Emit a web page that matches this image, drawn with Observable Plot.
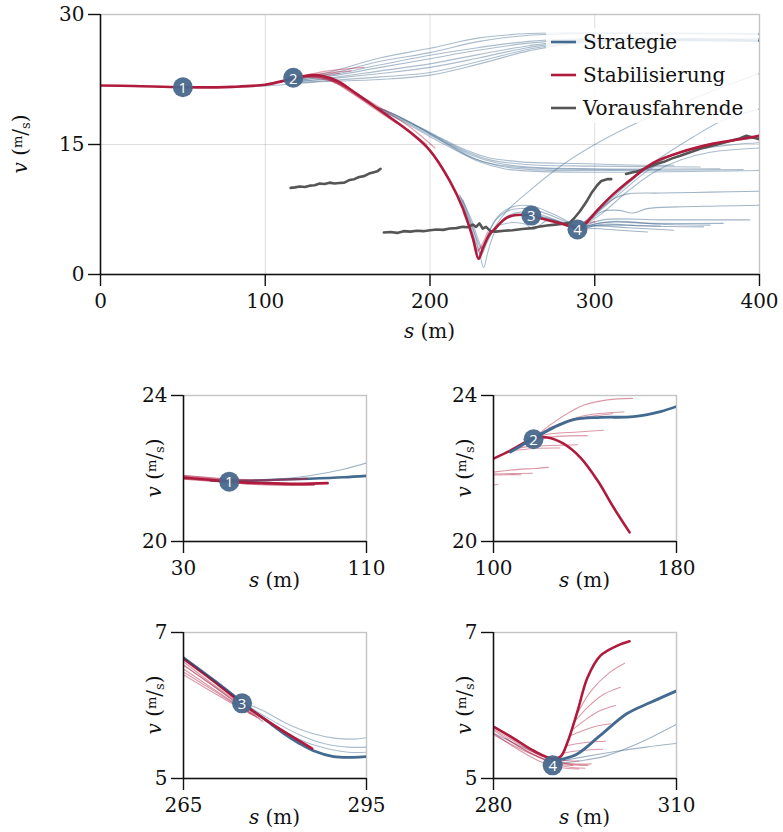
<!DOCTYPE html>
<html><head><meta charset="utf-8">
<script src="https://cdn.jsdelivr.net/npm/d3@7"></script>
<script src="https://cdn.jsdelivr.net/npm/@observablehq/plot@0.6"></script>
<style>
body{margin:0;background:#fff;}
#wrap{position:relative;width:783px;height:832px;overflow:hidden;background:#fff;}
#wrap svg{position:absolute;overflow:visible;}
</style></head>
<body><div id="wrap"></div>
<script>
// ---------- colours ----------
const BLUE = "#436a90", RED = "#b01a3c", GRAY = "#555555", MARK = "#48688c";

// ---------- legend ----------
const legendLabels = ["Strategie", "Stabilisierung", "Vorausfahrende"];
const legendColors = [BLUE, RED, GRAY];

// ---------- main chart ----------
const mainXTicks = [0, 100, 200, 300, 400];
const mainYTicks = [0, 15, 30];
const mainMarkers = [[50, 21.6, "1"], [117, 22.7, "2"], [261.5, 6.8, "3"], [289.5, 5.2, "4"]];

const mainRed = [[0,21.8],[20,21.75],[50,21.6],[80,21.65],[100,21.9],[117,22.6],[128,23.0],[135,22.9],[144,22.3],[155,20.9],[170,18.9],[188,16.4],[200,14.3],[212,10.8],[220,7.6],[226,4.2],[229.5,1.8],[232,3.0],[236,4.6],[239,5.2],[247,6.6],[257,6.9],[267,6.5],[279,5.9],[287,5.45],[289.5,5.3],[293,5.6],[301.5,7.4],[311.5,9.3],[323.5,11.2],[335.7,12.9],[352,14.1],[372,15.1],[388,15.6],[400,16.0]];

const mainRedThin = [
  [[100,21.9],[117,22.6],[135,23.4],[160,23.9]],
  [[100,21.9],[117,22.6],[135,23.2],[152,23.5]],
  [[100,21.9],[117,22.5],[130,22.9],[145,23.2]],
  [[125,23.0],[135,22.8],[145,22.0],[158,20.6],[172,19.0],[188,17.0],[203,14.6]],
  [[125,22.9],[135,22.7],[145,21.9],[158,20.3],[172,18.6],[186,16.8],[198,15.0]],
  [[125,22.8],[140,22.3],[152,21.0],[165,19.3],[180,17.4]],
  [[125,22.9],[140,22.4],[152,21.2],[165,19.6],[175,18.4]],
  [[120,22.8],[135,22.7],[148,21.8],[160,20.3]],
  [[220,7.2],[225,4.8],[228.5,2.6],[231,3.2]],
  [[221,7.0],[226,4.5],[229,2.8],[232,3.6],[235,4.9]],
  [[289.5,5.3],[294,6.1],[299,6.6]],
  [[289.5,5.3],[295,5.9],[300,6.1]]
];

const mainBlueUpper = [
  [[117,22.4],[140,23.4],[170,25.0],[200,26.1],[230,27.3],[260,27.8],[300,27.9],[400,27.8]],
  [[117,22.4],[140,23.2],[170,24.6],[200,25.6],[230,26.9],[260,27.6],[300,27.8],[400,27.7]],
  [[117,22.3],[140,23.0],[170,24.2],[200,25.3],[230,26.2],[260,26.9],[290,27.2],[400,27.2]],
  [[117,22.3],[140,22.9],[170,23.9],[200,24.9],[230,25.9],[260,26.7],[290,27.1],[400,27.1]],
  [[117,22.2],[140,22.7],[170,23.5],[200,24.3],[230,25.4],[260,26.4],[290,27.0],[400,27.0]],
  [[117,22.2],[140,22.6],[170,23.2],[200,23.9],[230,25.0],[260,26.2],[290,26.9],[400,27.0]],
  [[117,22.1],[140,22.4],[170,22.8],[200,23.3],[230,24.6],[260,26.0],[290,26.8],[400,26.9]],
  [[50,21.6],[75,21.6],[100,21.75],[117,22.0],[130,22.2],[170,22.5],[200,23.0],[230,24.3],[260,25.8],[290,26.7],[400,26.9]]
];

const mainBlueMid = [
  [[168,19.3],[176,18.7],[190,17.4],[205,15.9],[220,14.5],[235,13.5],[255,13.0],[290,12.8],[330,12.6],[348,12.6]],
  [[168,19.3],[178,18.5],[192,17.1],[207,15.6],[222,14.2],[237,13.2],[258,12.7],[300,12.5],[364,12.4]],
  [[168,19.2],[180,18.2],[195,16.8],[210,15.2],[225,13.8],[240,12.9],[260,12.4],[300,12.2],[376,12.2]],
  [[168,19.1],[182,17.9],[198,16.3],[213,14.8],[228,13.3],[243,12.5],[262,12.1],[300,12.0],[390,12.1]],
  [[168,19.1],[183,17.7],[200,15.9],[215,14.4],[230,13.0],[245,12.2],[265,11.9],[300,11.8],[400,12.0]],
  [[168,19.2],[179,18.4],[194,16.9],[209,15.2],[224,13.6],[240,12.7],[260,12.3],[310,12.1],[340,12.1]]
];

const mainBlueRise = [
  [[232,2.5],[238,5.0],[246,7.2],[260,9.6],[280,12.6],[300,15.0],[320,17.0],[340,18.7],[360,20.3],[380,21.8],[400,23.2]],
  [[289.5,5.25],[300,7.0],[315,9.6],[330,12.0],[345,13.6],[360,14.6],[380,15.3],[400,15.8]],
  [[289.5,5.25],[302,7.2],[318,9.8],[333,12.1],[348,13.5],[365,14.5],[385,15.0],[400,15.2]],
  [[289.5,5.25],[304,7.0],[320,9.6],[336,11.8],[352,13.2],[370,14.1],[400,14.6]],
  [[289.5,5.25],[300,7.2],[315,10.0],[330,12.2],[344,14.0],[360,15.9],[378,17.8],[400,19.1]]
];

const mainBlueDip = [
  [[218,9.0],[224,6.0],[228,3.6],[231,2.2],[234,3.8],[238,5.8],[244,7.2],[252,7.9],[262,7.9],[272,7.2],[282,6.3],[289.5,5.4]],
  [[218,9.2],[225,6.4],[229,4.2],[232,3.0],[235,4.5],[240,6.3],[248,7.4],[258,7.6],[268,7.2],[280,6.3],[289.5,5.5]],
  [[220,8.6],[226,5.4],[230,2.6],[232.5,0.8],[235,2.5],[239,4.8],[245,6.5],[255,7.2],[265,7.0],[278,6.2],[289.5,5.5]],
  [[219,8.8],[225,5.8],[229,3.8],[231.5,2.9],[235,4.0],[240,5.5],[248,6.6],[258,6.9],[270,6.6],[282,5.9],[290,5.6],[310,5.7],[340,5.6]],
  [[240,5.6],[250,6.0],[258,5.8],[263,5.2],[266,5.6],[272,6.3],[280,6.0],[289.5,5.4]]
];

const mainBlueLow = [
  [[262,6.8],[270,6.4],[280,5.9],[289.5,5.3],[300,5.3],[315,5.1],[332,4.9]],
  [[262,6.8],[275,6.2],[289.5,5.25],[300,5.6],[320,5.4],[348,5.1]],
  [[262,6.9],[276,6.2],[289.5,5.25],[305,5.8],[330,5.6],[366,5.5]],
  [[289.5,5.25],[305,6.0],[335,5.9],[378,5.9]],
  [[289.5,5.25],[305,6.3],[340,6.3],[394,6.3]],
  [[289.5,5.25],[310,6.1],[340,5.8],[370,5.7]],
  [[289.5,5.25],[298,6.5],[305,7.8],[312,8.8],[320,9.3],[340,9.4],[370,9.5],[400,9.6]],
  [[289.5,5.25],[298,6.4],[305,7.3],[315,7.4],[323,7.1],[332,7.6],[350,7.8],[375,7.9],[400,8.0]]
];

const leadA = [[115.4,10.0],[118,10.05],[121,10.15],[124,10.1],[127,10.25],[130,10.3],[133,10.5],[136,10.45],[139,10.6],[142,10.5],[145,10.55],[148,10.6],[151,10.9],[154,11.0],[157,11.25],[160,11.35],[163,11.65],[166,11.8],[168,11.9],[170,12.2]];
const leadB = [[172,4.85],[176,4.9],[180,4.8],[184,5.0],[188,4.95],[192,5.05],[196,5.0],[200,5.1],[204,5.2],[208,5.15],[212,5.3],[216,5.35],[220,5.5],[223,5.45],[226,5.75],[228,5.5],[230,5.9],[232,5.3],[234,5.5],[236.7,5.0],[240,4.95],[245,5.05],[250,5.1],[256,5.25],[262,5.35],[266,5.5],[271,5.65],[276,5.75],[281,5.85],[285,6.0],[288,6.6],[291,7.3],[293.5,8.0],[295.6,8.6],[298,9.4],[301.5,10.3],[304,10.8],[307.5,11.0],[310,11.0]];
const leadC = [[319,11.6],[323,11.8],[326,11.9],[330,12.2],[334,12.5],[338,12.8],[342,13.0],[347,13.4],[352,13.7],[358,14.1],[364,14.5],[370,14.8],[376,15.1],[382,15.4],[388,15.7],[392,16.0],[396,15.8],[400,15.6]];

// ---------- detail panel 1 ----------
const p1Marker = [[50, 21.64, "1"]];
const p1RedThick = [[30,21.75],[40,21.7],[50,21.64],[65,21.6],[80,21.58],[93,21.6]];
const p1RedThin = [
  [[30,21.8],[45,21.72],[60,21.68],[75,21.7],[84,21.72]],
  [[30,21.72],[45,21.65],[60,21.58],[75,21.55],[87,21.55]]
];
const p1BlueThick = [[42,21.67],[55,21.66],[70,21.69],[85,21.72],[100,21.76],[110,21.8]];
const p1BlueThin = [[[55,21.67],[70,21.7],[85,21.8],[100,21.98],[110,22.15]]];

// ---------- detail panel 2 ----------
const p2Marker = [[117.5, 22.8, "2"]];
const p2RedThick = [[100,22.27],[107.4,22.49],[117.5,22.82],[123.6,22.85],[130.6,22.68],[138,22.3],[145.5,21.67],[152.5,20.93],[159.5,20.25]];
const p2BlueThick = [[107.4,22.45],[117.5,22.82],[126.2,23.12],[135,23.34],[146.8,23.4],[161.2,23.42],[173,23.56],[180,23.7]];
const p2RedThin = [
  [[117.5,22.82],[126,23.25],[139.3,23.73],[149.8,23.88],[160.8,23.92]],
  [[120,22.95],[130,23.25],[140,23.45],[149,23.52],[157,23.55]],
  [[124,23.1],[135,23.35],[145,23.45],[152,23.5]],
  [[115,22.8],[125,22.95],[137,23.0],[148,23.05]],
  [[118,22.8],[128,22.88],[141,22.9]],
  [[107,22.5],[115,22.6],[125,22.63],[136.7,22.65]],
  [[107,22.48],[118,22.55],[129,22.56]],
  [[100,21.9],[110,21.97],[118,22.0],[124,22.03]],
  [[100,21.85],[108,21.86],[117,21.87]],
  [[100,21.82],[106,21.83],[112,21.83]],
  [[100,21.55],[102,21.56]]
];

// ---------- detail panel 3 ----------
const p3Marker = [[274.6, 6.03, "3"]];
const p3RedThick = [[265,6.64],[270,6.33],[274.6,6.03],[280,5.72],[286.1,5.41]];
const p3PrevThick = [[265,6.66],[270,6.35],[274.6,6.05]];
const p3BlueThick = [[274.6,6.03],[278,5.83],[281.4,5.62],[284,5.48],[286.3,5.38],[289.6,5.30],[292.9,5.29],[295,5.30]];
const p3BlueThin = [
  [[274.6,6.05],[278,5.93],[282,5.75],[286,5.62],[290,5.55],[293,5.54],[295,5.56]],
  [[274.6,6.05],[279,5.82],[284,5.6],[288,5.48],[292,5.43],[295,5.43]],
  [[274.6,6.05],[280,5.72],[285,5.5],[289,5.4],[292,5.36],[295,5.36]]
];
const p3RedThin = [
  [[265,6.6],[270,6.28],[275,5.98],[277.5,5.82]],
  [[265,6.55],[270,6.26],[275,5.96],[278,5.78]],
  [[265,6.5],[270,6.22],[274,6.0],[277,5.84]],
  [[265,6.46],[270,6.2],[276,5.88]],
  [[265,6.42],[270,6.17],[275,5.93]],
  [[265,6.56],[271,6.2],[276.5,5.86]]
];

// ---------- detail panel 4 ----------
const p4Marker = [[289.7, 5.18, "4"]];
const p4RedThick = [[280.2,5.70],[283.3,5.55],[286.6,5.38],[289.7,5.27],[291,5.3],[292.1,5.49],[293.8,5.93],[295.4,6.38],[297.5,6.68],[300.3,6.82],[302.3,6.88]];
const p4BlueThick = [[289.7,5.25],[291.5,5.27],[293.8,5.34],[297.5,5.59],[301.9,5.89],[305.7,6.04],[310,6.20]];
const p4RedThin = [
  [[293.5,5.85],[296,6.2],[299,6.45],[301.5,6.58]],
  [[293,5.75],[295.5,5.98],[298,6.15],[300.8,6.25]],
  [[292.7,5.65],[295,5.8],[297.5,5.93],[300,6.0]],
  [[292.4,5.58],[294.5,5.65],[296.5,5.71],[299.2,5.75]],
  [[292,5.45],[294,5.48],[296,5.5],[298.4,5.51]],
  [[291.5,5.35],[294,5.38],[297.9,5.40]],
  [[280,5.72],[284,5.5],[288,5.32],[292,5.2],[295.5,5.18]],
  [[280,5.66],[284,5.45],[288,5.27],[292,5.16],[295,5.14]],
  [[280,5.62],[284,5.4],[288,5.22],[291,5.15],[294,5.13]],
  [[280,5.6],[285,5.38],[289,5.25],[293,5.2],[296,5.2]],
  [[280,5.68],[284,5.48],[288,5.3],[291,5.25],[294,5.24]],
  [[282,5.55],[286,5.35],[290,5.21],[293,5.18]]
];
const p4BlueThin = [
  [[290,5.2],[294,5.24],[298,5.3],[302,5.42],[306,5.57],[310,5.74]],
  [[290,5.22],[295,5.3],[300,5.37],[305,5.43],[310,5.48]],
  [[280,5.62],[285,5.42],[289.7,5.25]]
];

// ---------- helpers ----------
const FONT = "'DejaVu Serif', serif";
const X = d => d[0], Y = d => d[1];
const thin = (sets, color, op, w = 1.1) => sets.map(pts => Plot.line(pts, {x: X, y: Y, stroke: color, strokeOpacity: op, strokeWidth: w, curve: "catmull-rom", clip: true}));
const thick = (pts, color, w = 2.6, op = 1) => Plot.line(pts, {x: X, y: Y, stroke: color, strokeWidth: w, strokeOpacity: op, curve: "catmull-rom", clip: true});
const markers = (ms) => [
  Plot.dot(ms, {x: X, y: Y, r: 10, fill: MARK, fillOpacity: 0.95, stroke: "none"}),
  Plot.text(ms, {x: X, y: Y, text: d => d[2], fill: "white", fontFamily: "'Open Sans', sans-serif", fontSize: 15, dy: 1})
];

function addLabels(svg, o) {
  const s = d3.select(svg);
  const xl = s.append("text").attr("x", o.xCx).attr("y", o.xBase).attr("text-anchor", "middle")
    .attr("font-family", FONT).attr("font-size", 20).attr("fill", "#111");
  xl.append("tspan").attr("font-style", "italic").text("s");
  xl.append("tspan").text(" (m)");
  const yl = s.append("text").attr("transform", `translate(${o.yBase},${o.yCy}) rotate(-90)`).attr("text-anchor", "middle")
    .attr("font-family", FONT).attr("font-size", 20).attr("fill", "#111");
  yl.append("tspan").attr("font-style", "italic").text("v");
  yl.append("tspan").text(" (");
  yl.append("tspan").attr("font-size", 13).attr("dy", -5).text("m");
  yl.append("tspan").attr("dy", 5).text("/");
  yl.append("tspan").attr("font-size", 13).attr("dy", 3).text("s");
  yl.append("tspan").attr("dy", -3).text(")");
}

function panel(cfg) {
  const {left, top, width, height, mL, mR, mT, mB, xd, yd, xt, yt, gridX = [], gridY = [], marks} = cfg;
  const fmt = d => String(d);
  const svg = Plot.plot({
    width, height, marginLeft: mL, marginRight: mR, marginTop: mT, marginBottom: mB,
    x: {domain: xd}, y: {domain: yd},
    style: {fontFamily: FONT, fontSize: "20px", background: "transparent", color: "#111"},
    marks: [
      Plot.gridX(gridX, {stroke: "#000", strokeOpacity: 0.13, strokeWidth: 1}),
      Plot.gridY(gridY, {stroke: "#000", strokeOpacity: 0.13, strokeWidth: 1}),
      Plot.frame({stroke: "#c4c4c4", strokeWidth: 1.4}),
      ...marks,
      Plot.ruleX([xd[0]], {stroke: "#111", strokeWidth: 1.5}),
      Plot.ruleY([yd[0]], {stroke: "#111", strokeWidth: 1.5}),
      Plot.axisX(xt, {tickSize: 12, tickPadding: 7, tickFormat: fmt, label: null, fontSize: 20, strokeWidth: 1.4, stroke: "#111", fill: "#111"}),
      Plot.axisY(yt, {tickSize: 12, tickPadding: 4, tickFormat: fmt, label: null, fontSize: 20, strokeWidth: 1.4, stroke: "#111", fill: "#111"})
    ]
  });
  svg.style.left = left + "px";
  svg.style.top = top + "px";
  const plotW = width - mL - mR, plotH = height - mT - mB;
  addLabels(svg, {xCx: mL + plotW / 2, xBase: mT + plotH + cfg.xLabOff, yCy: mT + plotH / 2, yBase: mL - cfg.yLabOff});
  document.getElementById("wrap").appendChild(svg);
  return svg;
}

// ---------- main chart ----------
const mainSvg = panel({
  left: 0, top: 0, width: 783, height: 352, mL: 100, mR: 24, mT: 14, mB: 78,
  xd: [0, 400], yd: [0, 30], xt: mainXTicks, yt: mainYTicks, gridX: [100, 200, 300], gridY: [15],
  xLabOff: 64, yLabOff: 73,
  marks: [
    ...thin(mainBlueUpper, BLUE, 0.45),
    ...thin(mainBlueMid, BLUE, 0.45),
    ...thin(mainBlueRise, BLUE, 0.45),
    ...thin(mainBlueDip, BLUE, 0.45),
    ...thin(mainBlueLow, BLUE, 0.5),
    ...thin(mainRedThin, RED, 0.4, 1.3),
    Plot.line(leadA, {x: X, y: Y, stroke: GRAY, strokeWidth: 2.6, clip: true}),
    Plot.line(leadB, {x: X, y: Y, stroke: GRAY, strokeWidth: 2.6, clip: true}),
    Plot.line(leadC, {x: X, y: Y, stroke: GRAY, strokeWidth: 2.6, clip: true}),
    thick(mainRed, RED, 2.6),
    ...markers(mainMarkers)
  ]
});
// legend
{
  const s = d3.select(mainSvg);
  const g = s.append("g").attr("text-anchor", "start");
  g.append("rect").attr("x", 546).attr("y", 28).attr("width", 212).attr("height", 95).attr("fill", "white").attr("fill-opacity", 0.82);
  legendLabels.forEach((lab, i) => {
    const cy = 42 + i * 33;
    g.append("line").attr("x1", 551).attr("x2", 576).attr("y1", cy).attr("y2", cy).attr("stroke", legendColors[i]).attr("stroke-width", 2.6);
    g.append("text").attr("x", 583).attr("y", cy + 7).attr("text-anchor", "start").attr("font-family", FONT).attr("font-size", 20).attr("fill", "#111").text(lab);
  });
}

// ---------- detail panels ----------
panel({
  left: 100, top: 370, width: 300, height: 230, mL: 83, mR: 34, mT: 25, mB: 59,
  xd: [30, 110], yd: [20, 24], xt: [30, 110], yt: [20, 24], xLabOff: 46, yLabOff: 22,
  marks: [
    ...thin(p1BlueThin, BLUE, 0.5),
    thick(p1BlueThick, BLUE, 2.6),
    ...thin(p1RedThin, RED, 0.6, 2),
    thick(p1RedThick, RED, 2.6),
    ...markers(p1Marker)
  ]
});
panel({
  left: 410, top: 370, width: 300, height: 230, mL: 83, mR: 34, mT: 25, mB: 59,
  xd: [100, 180], yd: [20, 24], xt: [100, 180], yt: [20, 24], xLabOff: 46, yLabOff: 22,
  marks: [
    ...thin(p2RedThin, RED, 0.45, 1.1),
    thick(p2RedThick, RED, 2.6),
    thick(p2BlueThick, BLUE, 2.8),
    ...markers(p2Marker)
  ]
});
panel({
  left: 100, top: 607, width: 300, height: 225, mL: 83, mR: 34, mT: 25, mB: 54,
  xd: [265, 295], yd: [5, 7], xt: [265, 295], yt: [5, 7], xLabOff: 46, yLabOff: 22,
  marks: [
    ...thin(p3BlueThin, BLUE, 0.45),
    thick(p3BlueThick, BLUE, 2.8),
    ...thin(p3RedThin, RED, 0.45, 1.1),
    thick(p3RedThick, RED, 2.6),
    thick(p3PrevThick, "#2e3f6a", 2.2, 0.8),
    ...markers(p3Marker)
  ]
});
panel({
  left: 410, top: 607, width: 300, height: 225, mL: 83, mR: 34, mT: 25, mB: 54,
  xd: [280, 310], yd: [5, 7], xt: [280, 310], yt: [5, 7], xLabOff: 46, yLabOff: 22,
  marks: [
    ...thin(p4BlueThin, BLUE, 0.5),
    ...thin(p4RedThin, RED, 0.45, 1.1),
    thick(p4BlueThick, BLUE, 2.8),
    thick(p4RedThick, RED, 2.6),
    ...markers(p4Marker)
  ]
});
</script></body></html>
